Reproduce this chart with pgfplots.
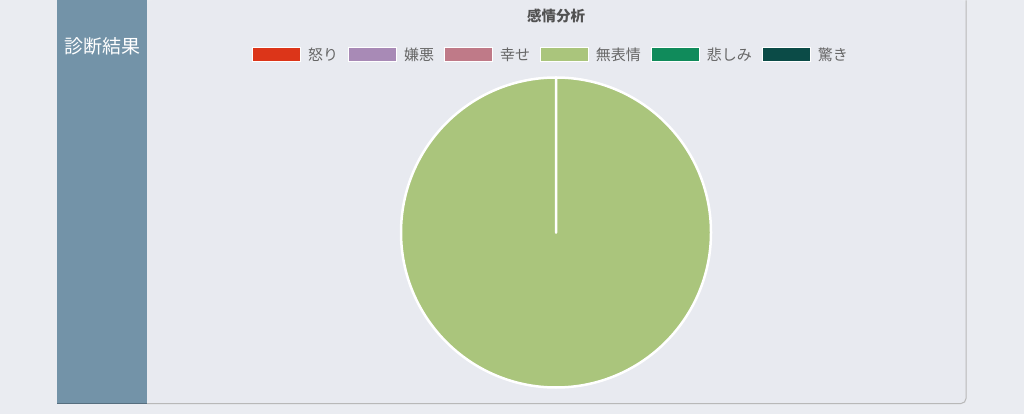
\documentclass[border=0pt]{standalone}
\usepackage{pgfplots}
\usepackage{pgfplotstable}
\pgfplotsset{compat=1.18}
\usepackage{fontspec}
\setmainfont{Noto Sans CJK JP}

\definecolor{pagebg}{HTML}{EAECF1}
\definecolor{panelbg}{HTML}{E8EAF0}
\definecolor{sidebar}{HTML}{7393A8}
\definecolor{cAnger}{HTML}{DC3519}
\definecolor{cDisgust}{HTML}{A88AB6}
\definecolor{cHappy}{HTML}{BF7A88}
\definecolor{cNeutral}{HTML}{AAC57C}
\definecolor{cSad}{HTML}{108B5B}
\definecolor{cSurprise}{HTML}{0B4B47}

% emotion counts, in legend order
\pgfplotstableread{
idx value color
0 0 cAnger
1 0 cDisgust
2 0 cHappy
3 100 cNeutral
4 0 cSad
5 0 cSurprise
}\emotions

% slice angles, clockwise from 12 o'clock
\xdef\total{0}%
\foreach \i in {0,...,5}{%
  \pgfplotstablegetelem{\i}{value}\of\emotions
  \pgfmathparse{\total+\pgfplotsretval}\xdef\total{\pgfmathresult}}%
\xdef\cum{0}%
\foreach \i in {0,...,5}{%
  \pgfplotstablegetelem{\i}{value}\of\emotions
  \pgfmathsetmacro\st{90-360*(\cum/\total)}%
  \pgfmathparse{\cum+\pgfplotsretval}\xdef\cum{\pgfmathresult}%
  \pgfmathsetmacro\en{90-360*(\cum/\total)}%
  \expandafter\xdef\csname sa\i\endcsname{\st}%
  \expandafter\xdef\csname ea\i\endcsname{\en}%
  \pgfplotstablegetelem{\i}{color}\of\emotions
  \expandafter\xdef\csname sc\i\endcsname{\pgfplotsretval}}%

\begin{document}
\begin{tikzpicture}
\begin{axis}[
  width=1024bp, height=413bp, scale only axis,
  xmin=0, xmax=1024, ymin=0, ymax=413,
  hide axis, clip=false,
  legend columns=6,
  legend style={at={(551/1024,359/413)}, anchor=center, draw=none, fill=none,
    font=\fontsize{15bp}{17bp}\selectfont, text=black!60,
    /tikz/every odd column/.append style={column sep=5bp},
    /tikz/every even column/.append style={column sep=8bp}},
  legend image code/.code={\filldraw[#1] (0bp,-7bp) rectangle (48bp,7bp);},
]
% page and panels
\fill[pagebg] (axis cs:0,0) rectangle (axis cs:1024,413);
\fill[panelbg, rounded corners=5bp] (axis cs:147,413) -- (axis cs:966,413)
  -- (axis cs:966,10) -- (axis cs:147,10) -- cycle;
\draw[black!28, line width=1bp, rounded corners=5bp] (axis cs:966,413)
  -- (axis cs:966,10) -- (axis cs:147,10);
\fill[sidebar] (axis cs:57,10) rectangle (axis cs:147,413);
\draw[sidebar!75!black, line width=1bp] (axis cs:57,10.5) -- (axis cs:147,10.5);
\node[white, font=\fontsize{19bp}{22bp}\selectfont] at (axis cs:102,367) {診断結果};
\node[text=black!68, font=\bfseries\fontsize{14.5bp}{17bp}\selectfont] at (axis cs:556,398) {感情分析};

% pie
\pgfplotsinvokeforeach{0,...,5}{
  \filldraw[fill=\csname sc#1\endcsname, draw=white, line width=2.5bp, line join=round]
    (axis cs:556,181) -- ++(\csname sa#1\endcsname:155bp)
    arc[start angle=\csname sa#1\endcsname, end angle=\csname ea#1\endcsname, radius=155bp]
    -- cycle;
}

\addlegendimage{fill=cAnger, draw=white, line width=1bp}
\addlegendentry{怒り}
\addlegendimage{fill=cDisgust, draw=white, line width=1bp}
\addlegendentry{嫌悪}
\addlegendimage{fill=cHappy, draw=white, line width=1bp}
\addlegendentry{幸せ}
\addlegendimage{fill=cNeutral, draw=white, line width=1bp}
\addlegendentry{無表情}
\addlegendimage{fill=cSad, draw=white, line width=1bp}
\addlegendentry{悲しみ}
\addlegendimage{fill=cSurprise, draw=white, line width=1bp}
\addlegendentry{驚き}
\end{axis}
\end{tikzpicture}
\end{document}
